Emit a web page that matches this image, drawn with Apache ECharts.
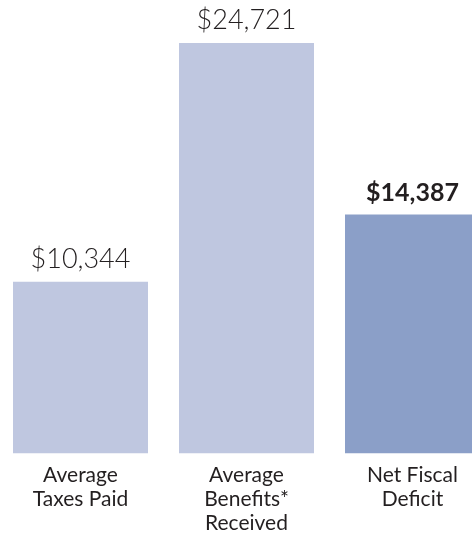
<!DOCTYPE html>
<html>
<head>
<meta charset="utf-8">
<script src="https://cdn.jsdelivr.net/npm/echarts@6/dist/echarts.min.js"></script>
<style>
  html, body { margin: 0; padding: 0; background: #ffffff; }
  #chart { width: 472px; height: 535px; }
</style>
</head>
<body>
<div id="chart"></div>
<script>
// Per-person fiscal figures
const categories = ['Average\nTaxes Paid', 'Average\nBenefits*\nReceived', 'Net Fiscal\nDeficit'];
const values = [10344, 24721, 14387];
const barColors = ['#bfc7e0', '#bfc7e0', '#8b9fc8'];
const labelWeights = [300, 300, 'bold'];
const labelSizes = [27, 27, 25];

const chart = echarts.init(document.getElementById('chart'), null, { renderer: 'canvas' });

const fmt = v => '$' + v.toLocaleString('en-US');

chart.setOption({
  animation: false,
  grid: {
    left: -2.5, width: 498, top: 38.4, bottom: 81.7,
    containLabel: false,
    outerBoundsMode: 'none'
  },
  xAxis: {
    type: 'category',
    data: categories,
    axisLine: { show: false },
    axisTick: { show: false },
    axisLabel: {
      margin: 10,
      fontFamily: 'Lato',
      fontSize: 21,
      lineHeight: 24,
      color: '#231f20',
      interval: 0
    }
  },
  yAxis: {
    type: 'value',
    min: 0,
    max: 25000,
    show: false,
    splitLine: { show: false }
  },
  series: [{
    type: 'bar',
    barWidth: 135,
    data: values.map((v, i) => ({
      value: v,
      itemStyle: { color: barColors[i] },
      label: { fontWeight: labelWeights[i], fontSize: labelSizes[i] }
    })),
    label: {
      show: true,
      position: 'top',
      distance: 9,
      fontFamily: 'Lato',
      color: '#231f20',
      formatter: p => fmt(p.value)
    }
  }]
});
</script>
</body>
</html>
